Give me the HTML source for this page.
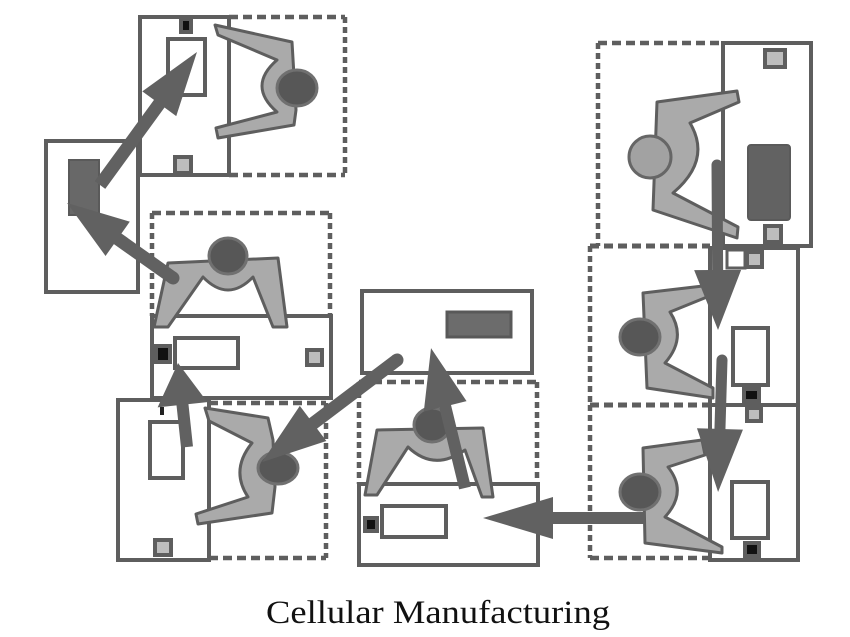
<!DOCTYPE html>
<html>
<head>
<meta charset="utf-8">
<style>
html,body{margin:0;padding:0;background:#fff;}
svg{display:block;}
</style>
</head>
<body>
<svg width="850" height="637" viewBox="0 0 850 637" xmlns="http://www.w3.org/2000/svg">
<rect width="850" height="637" fill="#fff"/>

<!-- ===== Solid station boxes ===== -->
<g fill="none" stroke="#5e5e5e" stroke-width="4">
  <rect x="46" y="141" width="92" height="151"/>
  <rect x="140" y="17" width="89" height="158"/>
  <rect x="152" y="316" width="179" height="82"/>
  <rect x="118" y="400" width="91" height="160"/>
  <rect x="362" y="291" width="170" height="82"/>
  <rect x="359" y="484" width="179" height="81"/>
  <rect x="723" y="43" width="88" height="203"/>
  <rect x="710" y="248" width="88" height="157"/>
  <rect x="710" y="405" width="88" height="155"/>
</g>

<!-- ===== Dashed work areas ===== -->
<g fill="none" stroke="#5e5e5e" stroke-width="4.5">
  <!-- B -->
  <line x1="229" y1="17" x2="345" y2="17" stroke-dasharray="9 5"/>
  <line x1="345" y1="17" x2="345" y2="175" stroke-dasharray="6 4"/>
  <line x1="229" y1="175" x2="345" y2="175" stroke-dasharray="9 5"/>
  <!-- C -->
  <line x1="152" y1="213" x2="330" y2="213" stroke-dasharray="9 5"/>
  <line x1="152" y1="213" x2="152" y2="316" stroke-dasharray="6 4"/>
  <line x1="330" y1="213" x2="330" y2="316" stroke-dasharray="6 4"/>
  <!-- D -->
  <line x1="209" y1="403" x2="326" y2="403" stroke-dasharray="9 5"/>
  <line x1="326" y1="403" x2="326" y2="558" stroke-dasharray="6 4"/>
  <line x1="209" y1="558" x2="326" y2="558" stroke-dasharray="9 5"/>
  <!-- F -->
  <line x1="359" y1="382" x2="537" y2="382" stroke-dasharray="9 5"/>
  <line x1="359" y1="382" x2="359" y2="484" stroke-dasharray="6 4"/>
  <line x1="537" y1="382" x2="537" y2="484" stroke-dasharray="6 4"/>
  <!-- G -->
  <line x1="598" y1="43" x2="723" y2="43" stroke-dasharray="9 5"/>
  <line x1="598" y1="43" x2="598" y2="246" stroke-dasharray="6 4"/>
  <!-- G/H divider -->
  <line x1="590" y1="246" x2="710" y2="246" stroke-dasharray="9 5" stroke-width="5"/>
  <!-- H -->
  <line x1="590" y1="246" x2="590" y2="405" stroke-dasharray="6 4"/>
  <!-- H/I divider -->
  <line x1="590" y1="405" x2="710" y2="405" stroke-dasharray="9 5" stroke-width="5"/>
  <!-- I -->
  <line x1="590" y1="405" x2="590" y2="558" stroke-dasharray="6 4"/>
  <line x1="590" y1="558" x2="710" y2="558" stroke-dasharray="9 5"/>
</g>

<!-- ===== Inner details ===== -->
<g stroke="#5e5e5e" stroke-width="4">
  <!-- A dark block -->
  <rect x="69" y="160" width="30" height="55" fill="#686868" stroke="#5a5a5a" stroke-width="2"/>
  <!-- B -->
  <rect x="168" y="39" width="37" height="56" fill="#fff"/>
  <!-- C -->
  <rect x="175" y="338" width="63" height="30" fill="#fff"/>
  <!-- D -->
  <rect x="150" y="422" width="33" height="56" fill="#fff"/>
  <!-- E dark -->
  <rect x="447" y="312" width="64" height="25" fill="#6c6c6c" stroke="#595959" stroke-width="3"/>
  <!-- F -->
  <rect x="382" y="506" width="64" height="31" fill="#fff"/>
  <!-- G dark -->
  <rect x="748" y="145" width="42" height="75" rx="3" fill="#626262" stroke="#5a5a5a" stroke-width="2"/>
  <!-- H -->
  <rect x="733" y="328" width="35" height="57" fill="#fff"/>
  <!-- I -->
  <rect x="732" y="482" width="36" height="56" fill="#fff"/>
  <!-- H top white square -->
  <rect x="727" y="250" width="18" height="18" fill="#fff" stroke-width="3"/>
</g>

<!-- small squares: gray -->
<g fill="#bdbdbd" stroke="#5e5e5e" stroke-width="4">
  <rect x="175" y="157" width="16" height="16"/>
  <rect x="307" y="350" width="15" height="15"/>
  <rect x="155" y="540" width="16" height="15"/>
  <rect x="765" y="50" width="20" height="17"/>
  <rect x="765" y="226" width="16" height="16"/>
  <rect x="747" y="252" width="15" height="15"/>
  <rect x="747" y="408" width="14" height="13"/>
</g>
<!-- small squares: black -->
<g fill="#111" stroke="#5e5e5e" stroke-width="4">
  <rect x="181" y="19" width="10" height="13"/>
  <rect x="156" y="346" width="14" height="16"/>
  <rect x="365" y="518" width="12" height="13"/>
  <rect x="744" y="389" width="15" height="12"/>
  <rect x="745" y="543" width="14" height="13"/>
</g>
<rect x="160" y="407" width="4" height="8" fill="#222"/>

<!-- ===== Persons ===== -->
<g fill="#aaaaaa" stroke="#5e5e5e" stroke-width="3" stroke-linejoin="round">
  <path d="M215,25 L292,42 L296,110 L294,125 L218,138 L216,128 L277,112 Q247,86 277,60 L218,35 Z"/>
  <path d="M168,263 L278,258 L287,327 L273,327 L253,277 Q228,303 203,277 L168,327 L154,327 Z"/>
  <path d="M205,408 L268,418 L273,440 L275,487 L272,513 L198,524 L196,514 L248,497 Q230,470 252,443 L209,421 Z"/>
  <path d="M377,430 L483,428 L493,497 L482,497 L465,450 Q434,472 408,447 L377,495 L365,495 Z"/>
  <path d="M657,102 L737,91 L739,102 L690,123 Q712,160 673,193 L738,227 L737,238 L653,210 Z"/>
  <path d="M643,293 L703,286 L707,297 L670,312 Q687,338 665,363 L713,388 L713,398 L647,388 Z"/>
  <path d="M643,448 L702,440 L705,455 L668,467 Q688,492 665,517 L722,547 L722,553 L645,543 Z"/>
</g>
<!-- heads -->
<g fill="#575757" stroke="#707070" stroke-width="3">
  <ellipse cx="297" cy="88" rx="20" ry="18"/>
  <ellipse cx="228" cy="256" rx="19" ry="18"/>
  <ellipse cx="278" cy="468" rx="20" ry="16"/>
  <ellipse cx="432" cy="425" rx="18" ry="17"/>
  <ellipse cx="640" cy="337" rx="20" ry="18"/>
  <ellipse cx="640" cy="492" rx="20" ry="18"/>
</g>
<ellipse cx="650" cy="157" rx="21" ry="21" fill="#a2a2a2" stroke="#666" stroke-width="3"/>

<!-- ===== Arrows ===== -->
<g fill="#616161">
  <g transform="translate(100 185) rotate(-53.9)">
    <polygon points="0,-6.5 100.6,-6.5 100.6,-21 164.6,0 100.6,21 100.6,6.5 0,6.5"/>
  </g>
  <g transform="translate(173 278) rotate(-144.7)">
    <circle cx="0" cy="0" r="6.5"/>
    <polygon points="0,-6.5 67.8,-6.5 67.8,-21 129.8,0 67.8,21 67.8,6.5 0,6.5"/>
  </g>
  <g transform="translate(187 447) rotate(-96.1)">
    <polygon points="0,-6 42.5,-6 42.5,-25 84.5,0 42.5,25 42.5,6 0,6"/>
  </g>
  <g transform="translate(397 360) rotate(142.9)">
    <circle cx="0" cy="0" r="6.5"/>
    <polygon points="0,-6.5 105.2,-6.5 105.2,-22 169.2,0 105.2,22 105.2,6.5 0,6.5"/>
  </g>
  <g transform="translate(465 488) rotate(-103.65)">
    <polygon points="0,-6 84,-6 84,-22 144,0 84,22 84,6 0,6"/>
  </g>
  <g transform="translate(645 518) rotate(180)">
    <polygon points="0,-6 92,-6 92,-21 162,0 92,21 92,6 0,6"/>
  </g>
  <g transform="translate(717 165) rotate(89.65)">
    <circle cx="0" cy="0" r="5.5"/>
    <polygon points="0,-5.5 105,-5.5 105,-23.5 165,0 105,23.5 105,5.5 0,5.5"/>
  </g>
  <g transform="translate(722 360) rotate(91.7)">
    <circle cx="0" cy="0" r="5.5"/>
    <polygon points="0,-5.5 69,-5.5 69,-23 132,0 69,23 69,5.5 0,5.5"/>
  </g>
</g>

<!-- ===== Title ===== -->
<text x="266" y="623" font-family="'Liberation Serif', serif" font-size="33" fill="#111" textLength="344" lengthAdjust="spacingAndGlyphs">Cellular Manufacturing</text>
</svg>
</body>
</html>
